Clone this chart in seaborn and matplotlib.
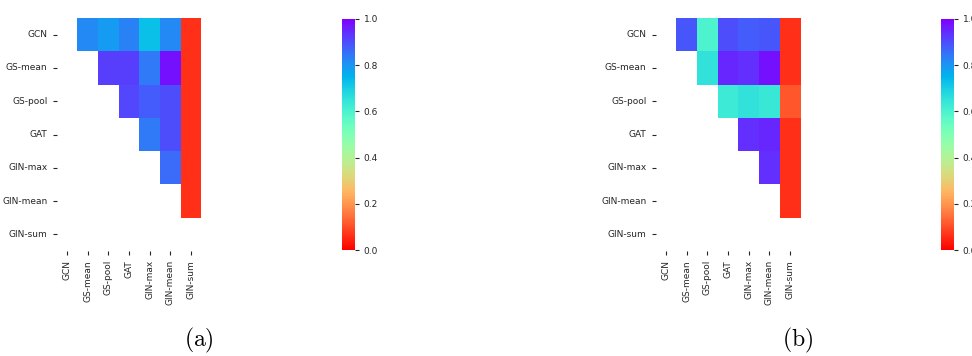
import numpy as np
import pandas as pd
import seaborn as sns
import matplotlib.pyplot as plt

# Model names (rows / columns)
models = ['GCN', 'GS-mean', 'GS-pool', 'GAT', 'GIN-max', 'GIN-mean', 'GIN-sum']

# Upper-triangle similarity values, read row by row (column j > row i)
vals_a = [
    [0.82, 0.79, 0.83, 0.73, 0.82, 0.06],
    [0.92, 0.92, 0.84, 0.98, 0.06],
    [0.91, 0.88, 0.90, 0.06],
    [0.84, 0.90, 0.06],
    [0.86, 0.06],
    [0.06],
]
vals_b = [
    [0.89, 0.60, 0.90, 0.88, 0.89, 0.06],
    [0.655, 0.95, 0.94, 0.98, 0.06],
    [0.63, 0.655, 0.64, 0.11],
    [0.94, 0.95, 0.06],
    [0.94, 0.06],
    [0.06],
]
captions = ['(a)', '(b)']


def to_frame(rows):
    n = len(models)
    m = np.full((n, n), np.nan)
    for i, r in enumerate(rows):
        m[i, i + 1:] = r
    return pd.DataFrame(m, index=models, columns=models)


plt.rcParams['mathtext.fontset'] = 'cm'
fig = plt.figure(figsize=(9.72, 3.56), dpi=100)

W, H = 972, 356
panels = [(vals_a, 56.5, 342, 199), (vals_b, 655.5, 941, 798)]

for (rows, hx, cx, capx), cap in zip(panels, captions):
    df = to_frame(rows)
    mask = np.tril(np.ones(df.shape, dtype=bool))
    ax = fig.add_axes([hx / W, (H - 251) / H, 145 / W, 233 / H])
    cax = fig.add_axes([cx / W, (H - 250) / H, 12.5 / W, 231 / H])
    sns.heatmap(df, mask=mask, cmap='rainbow_r', vmin=0, vmax=1,
                ax=ax, cbar_ax=cax)
    ax.tick_params(labelsize=6.5, colors='#262626', length=3, width=0.8)
    ax.set_xticklabels(models, rotation=90)
    ax.set_yticklabels(models, rotation=0)
    cax.tick_params(labelsize=6.5, colors='#262626', length=3, width=0.8)
    cax.set_yticks([0, 0.2, 0.4, 0.6, 0.8, 1.0])
    cax.set_yticklabels(['0.0', '0.2', '0.4', '0.6', '0.8', '1.0'])
    for s in cax.spines.values():
        s.set_visible(False)
    fig.text(capx / W, (H - 340) / H, r'$\mathrm{' + cap + '}$',
             ha='center', va='center', fontsize=17)

plt.savefig('out.png', dpi=100)
